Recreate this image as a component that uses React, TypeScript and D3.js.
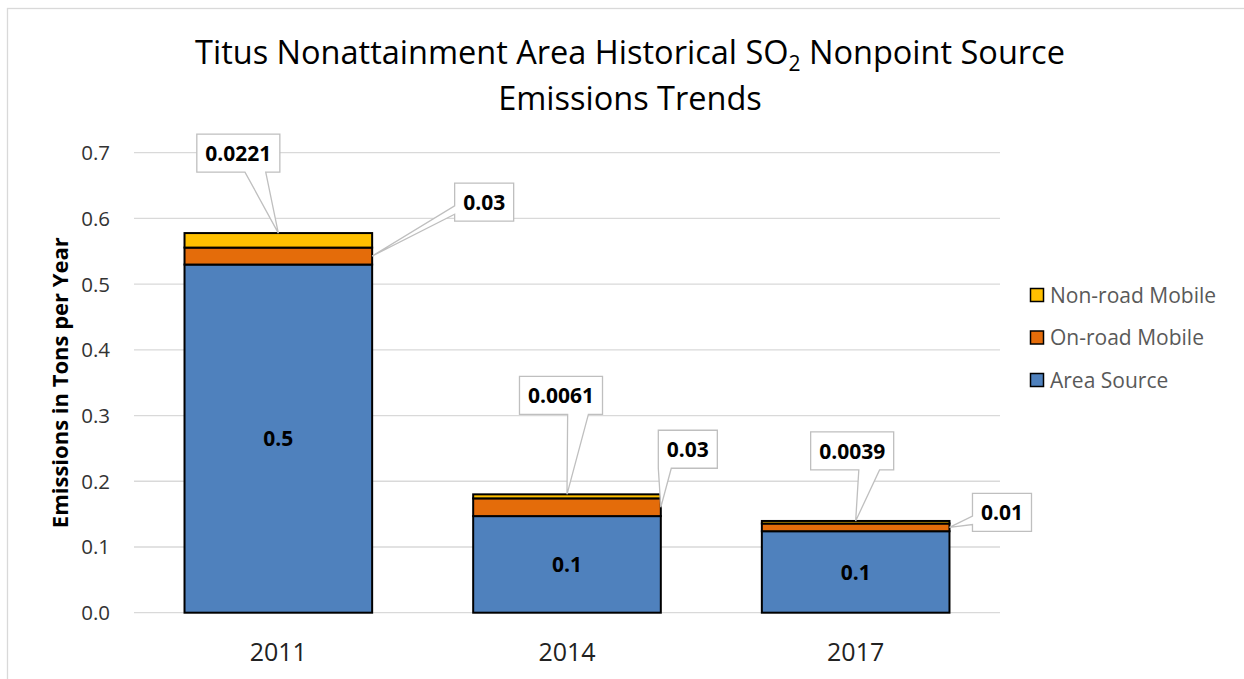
import React, { useEffect, useRef } from 'react';
import * as d3 from 'd3';

// --- Data ---
const years = ['2011', '2014', '2017'];
const areaSource = [0.5298, 0.147, 0.124];
const onroadMobile = [0.0258, 0.027, 0.0117];
const nonroadMobile = [0.0221, 0.0061, 0.0039];
const seriesNames = ['Area Source', 'On-road Mobile', 'Non-road Mobile'];
const yTicks = [0, 0.1, 0.2, 0.3, 0.4, 0.5, 0.6, 0.7];

// callout box centre offsets from the point they mark (px)
const nonroadCallouts = [[-40, -80], [-6, -99], [-3.5, -70]];
const onroadCallouts = [[112, -54], [27, -58], [52.5, -15]];

const colors = ['#4f81bd', '#e46c0a', '#ffc000'];
const FONT = "'Open Sans', sans-serif";

const App = () => {
  const ref = useRef<SVGSVGElement>(null);

  useEffect(() => {
    if (!ref.current) return;
    const svg = d3.select(ref.current);
    svg.selectAll('*').remove();

    // chart frame
    svg.append('rect')
      .attr('x', 7.5).attr('y', 8.5)
      .attr('width', 1260).attr('height', 700)
      .attr('fill', '#fff').attr('stroke', '#d9d9d9').attr('stroke-width', 1.3);

    const plot = { left: 134, right: 1000, top: 152.7, bottom: 612.7 };

    const x = d3.scaleBand<string>()
      .domain(years)
      .range([plot.left, plot.right])
      .paddingInner(0.35)
      .paddingOuter(0.175);

    const y = d3.scaleLinear().domain([0, 0.7]).range([plot.bottom, plot.top]);

    // --- Title ---
    const title = svg.append('text')
      .attr('x', 630).attr('y', 64)
      .attr('text-anchor', 'middle')
      .style('font-family', FONT)
      .style('font-size', '32.5px')
      .style('fill', '#000');
    title.append('tspan').text('Titus Nonattainment Area Historical SO');
    title.append('tspan').attr('dy', 7).style('font-size', '21px').text('2');
    title.append('tspan').attr('dy', -7).text(' Nonpoint Source');
    svg.append('text')
      .attr('x', 630).attr('y', 110)
      .attr('text-anchor', 'middle')
      .style('font-family', FONT)
      .style('font-size', '32.5px')
      .text('Emissions Trends');

    // --- Gridlines + y ticks ---
    svg.append('g').selectAll('line')
      .data(yTicks)
      .enter().append('line')
      .attr('x1', plot.left).attr('x2', plot.right)
      .attr('y1', d => y(d)).attr('y2', d => y(d))
      .attr('stroke', '#d9d9d9').attr('stroke-width', 1.3);

    svg.append('g').selectAll('text')
      .data(yTicks)
      .enter().append('text')
      .attr('x', 110)
      .attr('y', d => y(d))
      .attr('dy', '0.36em')
      .attr('text-anchor', 'end')
      .style('font-family', FONT).style('font-size', '20.5px').style('fill', '#333')
      .text(d => d3.format('.1f')(d));

    // y axis label
    svg.append('text')
      .attr('transform', `translate(68,${(plot.top + plot.bottom) / 2}) rotate(-90)`)
      .attr('text-anchor', 'middle')
      .style('font-family', FONT).style('font-size', '22px').style('font-weight', 'bold')
      .text('Emissions in Tons per Year');

    // x labels
    svg.append('g').selectAll('text')
      .data(years)
      .enter().append('text')
      .attr('x', d => x(d)! + x.bandwidth() / 2)
      .attr('y', 661)
      .attr('text-anchor', 'middle')
      .style('font-family', FONT).style('font-size', '25px').style('fill', '#222')
      .text(d => d);

    // --- Stacked bars ---
    const table = years.map((yr, i) => ({
      year: yr, area: areaSource[i], onroad: onroadMobile[i], nonroad: nonroadMobile[i],
    }));
    const stack = d3.stack<any>().keys(['area', 'onroad', 'nonroad'])(table);

    stack.forEach((layer, li) => {
      svg.append('g').selectAll('rect')
        .data(layer)
        .enter().append('rect')
        .attr('x', d => x(d.data.year)!)
        .attr('y', d => y(d[1]))
        .attr('width', x.bandwidth())
        .attr('height', d => y(d[0]) - y(d[1]))
        .attr('fill', colors[li])
        .attr('stroke', '#000').attr('stroke-width', 2);
    });

    // area labels inside bars
    svg.append('g').selectAll('text')
      .data(stack[0])
      .enter().append('text')
      .attr('x', d => x(d.data.year)! + x.bandwidth() / 2)
      .attr('y', d => (y(d[0]) + y(d[1])) / 2)
      .attr('dy', '0.36em')
      .attr('text-anchor', 'middle')
      .style('font-family', FONT).style('font-size', '21px').style('font-weight', 'bold')
      .text(d => d3.format('.1f')(d[1] - d[0]));

    // --- Callouts ---
    const drawCallout = (tx: number, ty: number, off: number[], label: string) => {
      const g = svg.append('g');
      const path = g.append('path')
        .attr('fill', '#fff').attr('stroke', '#bfbfbf').attr('stroke-width', 1.3);
      const t = g.append('text')
        .attr('text-anchor', 'middle')
        .attr('x', tx + off[0]).attr('y', ty + off[1])
        .attr('dy', '0.36em')
        .style('font-family', FONT).style('font-size', '21px').style('font-weight', 'bold')
        .text(label);
      const w = (t.node() as SVGTextElement).getComputedTextLength() + 17;
      const h = 38;
      const x0 = tx + off[0] - w / 2, x1 = x0 + w;
      const y0 = ty + off[1] - h / 2, y1 = y0 + h;
      let d: string;
      if (tx < x0) {
        const b1 = y0 + 0.6 * h, b2 = y0 + 0.82 * h;
        d = `M${x0},${y0}H${x1}V${y1}H${x0}V${b2}L${tx},${ty}L${x0},${b1}Z`;
      } else {
        const f = tx < x0 + 0.2 * w ? [0, 0.22] : [0.58, 0.83];
        const b1 = x0 + f[0] * w, b2 = x0 + f[1] * w;
        d = `M${x0},${y0}H${x1}V${y1}H${b2}L${tx},${ty}L${b1},${y1}H${x0}Z`;
      }
      path.attr('d', d);
    };

    stack[2].forEach((d, i) => {
      drawCallout(x(d.data.year)! + x.bandwidth() / 2, y(d[1]), nonroadCallouts[i],
        d3.format('.4f')(d[1] - d[0]));
    });
    stack[1].forEach((d, i) => {
      drawCallout(x(d.data.year)! + x.bandwidth(), (y(d[0]) + y(d[1])) / 2, onroadCallouts[i],
        d3.format('.2f')(d[1] - d[0]));
    });

    // --- Legend ---
    const legendOrder = [2, 1, 0];
    const legend = svg.append('g').selectAll('g')
      .data(legendOrder)
      .enter().append('g')
      .attr('transform', (d, i) => `translate(1030.5,${295 + i * 42.5})`);
    legend.append('rect')
      .attr('x', 0).attr('y', -6.5).attr('width', 13).attr('height', 13)
      .attr('fill', d => colors[d]).attr('stroke', '#000').attr('stroke-width', 1.5);
    legend.append('text')
      .attr('x', 19.5).attr('y', 0).attr('dy', '0.36em')
      .style('font-family', FONT).style('font-size', '21px').style('fill', '#595959')
      .text(d => seriesNames[d]);
  }, []);

  return (
    <svg ref={ref} width={1244} height={679}
      style={{ position: 'absolute', left: 0, top: 0, background: '#fff' }} />
  );
};

export default App;
